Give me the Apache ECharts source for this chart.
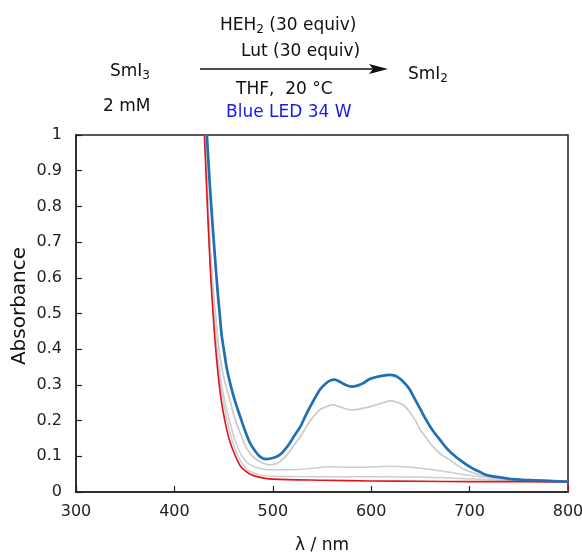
<!DOCTYPE html>
<html>
<head>
<meta charset="utf-8">
<script src="https://cdn.jsdelivr.net/npm/echarts@6/dist/echarts.min.js"></script>
<style>html,body{margin:0;padding:0;background:#fff}#c{width:582px;height:552px}</style>
</head>
<body>
<div id="c"></div>
<script>
// axis ticks
const xTicks = [300, 400, 500, 600, 700, 800];
const yTicks = [0, 0.1, 0.2, 0.3, 0.4, 0.5, 0.6, 0.7, 0.8, 0.9, 1];

// blue (final spectrum)
const blueX = [433,436,439,442,444,446,448,451,453,456,461,467,472,477,482,487,493,500,507,512,517,522,528,533,538,543,548,553,558,563,568,574,580,586,592,598,605,612,618,624,629,634,639,644,650,655,660,665,670,675,680,685,690,695,700,705,710,715,721,731,740,750,760,780,800];
const blueY = [1.0,0.86,0.74,0.63,0.56,0.5,0.44,0.385,0.35,0.312,0.26,0.21,0.17,0.136,0.115,0.099,0.092,0.095,0.104,0.118,0.136,0.158,0.183,0.212,0.239,0.264,0.287,0.302,0.312,0.315,0.309,0.300,0.295,0.298,0.305,0.316,0.322,0.326,0.328,0.326,0.318,0.305,0.288,0.262,0.232,0.206,0.183,0.163,0.146,0.128,0.113,0.101,0.09,0.08,0.071,0.063,0.057,0.05,0.045,0.041,0.037,0.035,0.033,0.031,0.029];

// grey (intermediate spectra)
const grayAX = [431.5,434,437,440,442,444,446,448,452,456,461,467,472,477,482,487,492,497,502,507,512,517,522,528,533,538,543,548,555,561,567,574,580,587,593,599,606,612,619,626,633,639,645,650,655,660,665,670,675,680,685,690,695,700,710,720,735,750,770,800];
const grayAY = [1.0,0.82,0.66,0.55,0.49,0.43,0.385,0.35,0.3,0.262,0.21,0.164,0.13,0.108,0.094,0.085,0.079,0.076,0.078,0.085,0.097,0.113,0.133,0.155,0.178,0.2,0.216,0.231,0.240,0.244,0.240,0.233,0.230,0.232,0.235,0.239,0.245,0.25,0.255,0.252,0.243,0.225,0.2,0.174,0.155,0.136,0.121,0.108,0.098,0.09,0.08,0.071,0.063,0.057,0.049,0.043,0.038,0.035,0.033,0.031];

const grayBX = [431,434,437,440,442,444,446,448,452,456,461,467,472,477,487,497,517,538,558,580,600,620,640,663,680,697,720,740,760,800];
const grayBY = [1.0,0.8,0.63,0.51,0.44,0.38,0.34,0.3,0.245,0.2,0.15,0.108,0.088,0.076,0.066,0.062,0.062,0.066,0.071,0.069,0.07,0.072,0.069,0.062,0.055,0.048,0.04,0.036,0.033,0.03];

const grayCX = [431,434,437,440,442,444,446,448,452,456,461,467,472,477,487,500,550,600,650,700,750,800];
const grayCY = [1.0,0.78,0.61,0.49,0.42,0.36,0.315,0.28,0.22,0.172,0.125,0.088,0.068,0.057,0.048,0.044,0.043,0.043,0.042,0.037,0.032,0.03];

// red (initial spectrum)
const redX = [430.5,434,437,440,442,444,446,448,452,456,462,467,472,477,487,500,550,600,650,700,750,799,800];
const redY = [1.0,0.77,0.6,0.47,0.4,0.34,0.29,0.25,0.19,0.145,0.1,0.073,0.059,0.05,0.041,0.036,0.033,0.031,0.030,0.029,0.029,0.028,0.0];

const zip = (xs, ys) => xs.map((x, i) => [x, ys[i]]);

const FONT = 'DejaVu Sans';
const chart = echarts.init(document.getElementById('c'), null, {renderer: 'canvas'});

function lineSeries(name, xs, ys, color, width, z, clip) {
  return {
    name, type: 'line', data: zip(xs, ys), showSymbol: false, symbol: 'none',
    smooth: 0.3, lineStyle: {color, width}, z, silent: true, animation: false, clip: clip
  };
}

const headerStyle = {fontFamily: FONT, fontSize: 17, fill: '#111'};
const subRich = {a: {fontFamily: FONT, fontSize: 17, fill: '#111'}, b: {fontFamily: FONT, fontSize: 12, fill: '#111', padding: [8, 0, 0, 0]}};

chart.setOption({
  animation: false,
  backgroundColor: '#fff',
  grid: {left: 76, right: 14, top: 135, bottom: 60, show: true, borderColor: '#222', borderWidth: 1.5,
    backgroundColor: 'transparent', containLabel: false, outerBoundsMode: 'none'},
  xAxis: {
    type: 'value', min: 300, max: 800, interval: 100,
    name: 'λ / nm', nameLocation: 'middle', nameGap: 45,
    nameTextStyle: {fontFamily: FONT, fontSize: 17, color: '#111'},
    axisLine: {show: true, onZero: false, lineStyle: {color: '#222', width: 1.5}},
    axisTick: {show: true, inside: true, length: 6, lineStyle: {color: '#222', width: 1.2}},
    axisLabel: {fontFamily: FONT, fontSize: 16, color: '#222', margin: 12},
    splitLine: {show: false}
  },
  yAxis: {
    type: 'value', min: 0, max: 1, interval: 0.1,
    axisLine: {show: true, onZero: false, lineStyle: {color: '#222', width: 1.5}},
    axisTick: {show: true, inside: true, length: 6, lineStyle: {color: '#222', width: 1.2}},
    axisLabel: {fontFamily: FONT, fontSize: 16, color: '#222', margin: 14,
      formatter: v => String(Math.round(v * 10) / 10)},
    splitLine: {show: false}
  },
  series: [
    lineSeries('t1', grayCX, grayCY, '#cdcdcd', 1.5, 2, true),
    lineSeries('t2', grayBX, grayBY, '#cdcdcd', 1.5, 2, true),
    lineSeries('t3', grayAX, grayAY, '#cdcdcd', 1.8, 2, true),
    lineSeries('t0', redX, redY, '#e0141c', 1.6, 3, false),
    lineSeries('final', blueX, blueY, '#1f6fb4', 2.7, 4, true)
  ],
  graphic: [
    {type: 'text', x: 20, y: 306, rotation: Math.PI / 2, style: {text: 'Absorbance', fontFamily: FONT, fontSize: 20, fill: '#111', align: 'center', verticalAlign: 'middle'}},
    {type: 'text', left: 110, top: 63, style: Object.assign({}, headerStyle, {text: '{a|SmI}{b|3}', rich: subRich})},
    {type: 'text', left: 103, top: 98, style: Object.assign({}, headerStyle, {text: '2 mM'})},
    {type: 'text', left: 408, top: 66, style: Object.assign({}, headerStyle, {text: '{a|SmI}{b|2}', rich: subRich})},
    {type: 'text', left: 220, top: 17, style: Object.assign({}, headerStyle, {text: '{a|HEH}{b|2}{a| (30 equiv)}', rich: subRich})},
    {type: 'text', left: 241, top: 43, style: Object.assign({}, headerStyle, {text: 'Lut (30 equiv)'})},
    {type: 'text', left: 236, top: 81, style: Object.assign({}, headerStyle, {text: 'THF,  20 °C'})},
    {type: 'text', left: 226, top: 104, style: Object.assign({}, headerStyle, {text: 'Blue LED 34 W', fill: '#1a1ae8'})},
    {type: 'line', shape: {x1: 200, y1: 69, x2: 376, y2: 69}, style: {stroke: '#111', lineWidth: 1.6}},
    {type: 'polygon', shape: {points: [[369, 64], [388, 69], [369, 74], [373, 69]]}, style: {fill: '#111'}}
  ]
});
</script>
</body>
</html>
